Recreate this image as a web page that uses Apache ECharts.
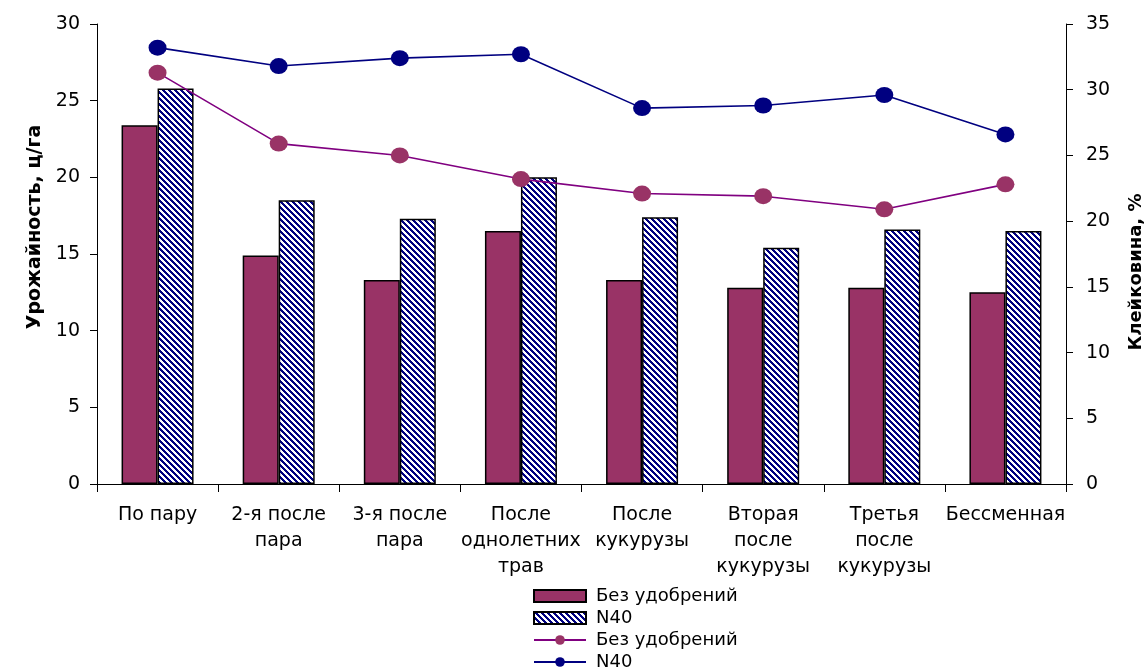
<!DOCTYPE html>
<html>
<head>
<meta charset="utf-8">
<script src="https://cdn.jsdelivr.net/npm/echarts@6/dist/echarts.min.js"></script>
<style>
  html, body { margin: 0; padding: 0; background: #fff; }
  #chart { width: 1145px; height: 668px; }
</style>
</head>
<body>
<div id="chart"></div>
<script>
// Categories (predecessor crops) and measured values
const categories = [
  'По пару',
  '2-я после\nпара',
  '3-я после\nпара',
  'После\nоднолетних\nтрав',
  'После\nкукурузы',
  'Вторая\nпосле\nкукурузы',
  'Третья\nпосле\nкукурузы',
  'Бессменная'
];
// Yield, c/ha
const yieldNoFert = [23.4, 14.9, 13.3, 16.5, 13.3, 12.8, 12.8, 12.5];
const yieldN40    = [25.8, 18.5, 17.3, 20.0, 17.4, 15.4, 16.6, 16.5];
// Gluten content, %
const glutenNoFert = [31.3, 25.9, 25.0, 23.2, 22.1, 21.9, 20.9, 22.8];
const glutenN40    = [33.2, 31.8, 32.4, 32.7, 28.6, 28.8, 29.6, 26.6];

const leftTicks = { min: 0, max: 30, interval: 5 };
const rightTicks = { min: 0, max: 35, interval: 5 };

const LINE_PREFIX = 'Клейковина — ';

// Diagonal navy hatch used for the N40 bars
function makeHatch() {
  const c = document.createElement('canvas');
  const n = 6;
  c.width = n; c.height = n;
  const ctx = c.getContext('2d');
  ctx.fillStyle = '#ffffff';
  ctx.fillRect(0, 0, n, n);
  ctx.fillStyle = '#000080';
  for (let y = 0; y < n; y++) {
    for (let x = 0; x < n; x++) {
      if ((((x - y) % n) + n) % n < 3) ctx.fillRect(x, y, 1, 1);
    }
  }
  return c;
}
const hatch = { image: makeHatch(), repeat: 'repeat' };

const FONT = 'DejaVu Sans';
const chart = echarts.init(document.getElementById('chart'), null, { renderer: 'canvas' });

chart.setOption({
  animation: false,
  backgroundColor: '#ffffff',
  textStyle: { fontFamily: FONT, color: '#000' },
  grid: { left: 97, right: 79, top: 24, bottom: 184, containLabel: false, outerBoundsMode: 'none' },
  legend: {
    orient: 'vertical',
    left: 528,
    top: 582,
    height: 120,
    padding: 5,
    itemWidth: 52,
    itemHeight: 12,
    itemGap: 4,
    textStyle: { fontFamily: FONT, fontSize: 18, color: '#000', padding: [0, 0, 0, 5] },
    formatter: function (name) { return name.replace(LINE_PREFIX, ''); },
    data: [
      { name: 'Без удобрений', icon: 'rect' },
      { name: 'N40', icon: 'rect' },
      { name: LINE_PREFIX + 'Без удобрений' },
      { name: LINE_PREFIX + 'N40' }
    ]
  },
  xAxis: {
    type: 'category',
    data: categories,
    axisLine: { lineStyle: { color: '#000', width: 1 } },
    axisTick: { show: true, length: 8, lineStyle: { color: '#000' }, alignWithLabel: false },
    axisLabel: {
      interval: 0,
      margin: 18,
      fontFamily: FONT,
      fontSize: 19,
      lineHeight: 26,
      color: '#000',
      hideOverlap: false
    },
    splitLine: { show: false }
  },
  yAxis: [
    {
      type: 'value',
      min: leftTicks.min, max: leftTicks.max, interval: leftTicks.interval,
      name: 'Урожайность, ц/га',
      nameLocation: 'middle',
      nameGap: 52,
      nameTextStyle: { fontFamily: FONT, fontSize: 19, fontWeight: 'bold', color: '#000', padding: [0, 0, 0, 54] },
      axisLine: { show: true, lineStyle: { color: '#000', width: 1 } },
      axisTick: { show: true, length: 7, lineStyle: { color: '#000' } },
      axisLabel: { margin: 17, fontFamily: FONT, fontSize: 19, color: '#000' },
      splitLine: { show: false }
    },
    {
      type: 'value',
      position: 'right',
      min: rightTicks.min, max: rightTicks.max, interval: rightTicks.interval,
      name: 'Клейковина, %',
      nameLocation: 'middle',
      nameGap: 61,
      nameTextStyle: { fontFamily: FONT, fontSize: 18, fontWeight: 'bold', color: '#000', padding: [0, 36, 0, 0] },
      axisLine: { show: true, lineStyle: { color: '#000', width: 1 } },
      axisTick: { show: true, length: 7, lineStyle: { color: '#000' } },
      axisLabel: { margin: 20, fontFamily: FONT, fontSize: 19, color: '#000' },
      splitLine: { show: false }
    }
  ],
  series: [
    {
      name: 'Без удобрений',
      type: 'bar',
      yAxisIndex: 0,
      data: yieldNoFert,
      barWidth: 36,
      barGap: '0%',
      itemStyle: { color: '#993366', borderColor: '#000', borderWidth: 1.5 },
      z: 2
    },
    {
      name: 'N40',
      type: 'bar',
      yAxisIndex: 0,
      data: yieldN40,
      barWidth: 36,
      barGap: '0%',
      itemStyle: { color: hatch, borderColor: '#000', borderWidth: 1.5 },
      z: 2
    },
    {
      name: LINE_PREFIX + 'Без удобрений',
      type: 'line',
      yAxisIndex: 1,
      data: glutenNoFert,
      symbol: 'circle',
      symbolSize: [18, 16],
      lineStyle: { color: '#800080', width: 1.6 },
      itemStyle: { color: '#993366', borderWidth: 0 },
      z: 5
    },
    {
      name: LINE_PREFIX + 'N40',
      type: 'line',
      yAxisIndex: 1,
      data: glutenN40,
      symbol: 'circle',
      symbolSize: [18, 16],
      lineStyle: { color: '#000080', width: 1.6 },
      itemStyle: { color: '#000080', borderWidth: 0 },
      z: 5
    }
  ]
});
</script>
</body>
</html>
